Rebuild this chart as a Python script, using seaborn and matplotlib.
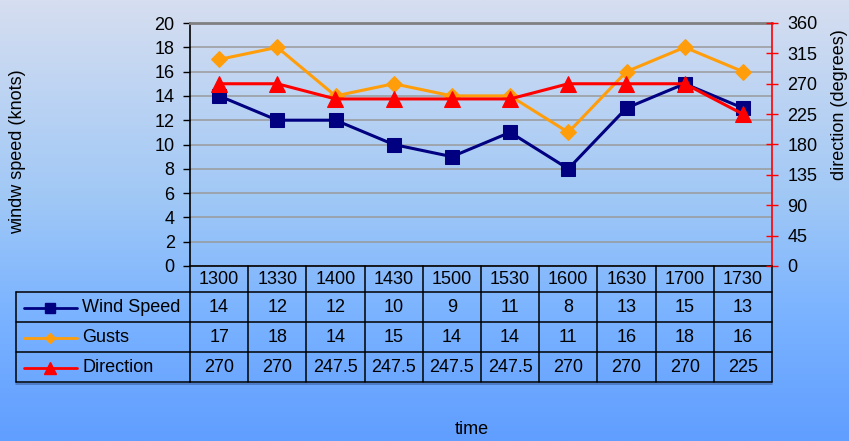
import numpy as np
import pandas as pd
import matplotlib
matplotlib.use("Agg")
import matplotlib.pyplot as plt
import matplotlib.transforms as mtransforms
from matplotlib.lines import Line2D
import seaborn as sns

# ---- data ----
times = ["1300", "1330", "1400", "1430", "1500", "1530", "1600", "1630", "1700", "1730"]
wind_speed = [14, 12, 12, 10, 9, 11, 8, 13, 15, 13]
gusts = [17, 18, 14, 15, 14, 14, 11, 16, 18, 16]
direction = [270, 270, 247.5, 247.5, 247.5, 247.5, 270, 270, 270, 225]
direction_labels = ["270", "270", "247.5", "247.5", "247.5", "247.5", "270", "270", "270", "225"]
series_names = ["Wind Speed", "Gusts", "Direction"]
left_ticks = list(range(0, 21, 2))
right_ticks = list(range(0, 361, 45))

sns.set_theme(style="white")
plt.rcParams["font.family"] = ["Liberation Sans", "DejaVu Sans"]
plt.rcParams["text.color"] = "black"
plt.rcParams["xtick.color"] = "black"
plt.rcParams["ytick.color"] = "black"
plt.rcParams["axes.labelcolor"] = "black"

FS = 13

W, H = 849, 441
fig = plt.figure(figsize=(W / 100, H / 100), dpi=100)

# ---- gradient background ----
bg = fig.add_axes([0, 0, 1, 1], zorder=-10)
stops = [(0.0, (214, 222, 240)), (0.45, (160, 200, 246)), (0.7, (124, 180, 255)), (1.0, (96, 158, 255))]
ys = np.linspace(0, 1, 256)
cols = np.zeros((256, 3))
for c in range(3):
    cols[:, c] = np.interp(ys, [s[0] for s in stops], [s[1][c] for s in stops]) / 255
grad = np.repeat(cols[:, None, :], 2, axis=1)
bg.imshow(grad, aspect="auto", extent=[0, 1, 0, 1], origin="upper")
bg.axis("off")

def fx(px):
    return px / W

def fy(py):
    return 1 - py / H

x0, x1, y_top, y_bot = 190, 772, 23, 266
ax = fig.add_axes([fx(x0), fy(y_bot), fx(x1) - fx(x0), (y_bot - y_top) / H])
ax.patch.set_alpha(0)

navy = "#000080"
orange = "#FF9E0A"
red = "#FF0000"

df = pd.DataFrame({"time": times, "wind": wind_speed, "gusts": gusts, "dir": direction})

sns.lineplot(data=df, x="time", y="gusts", ax=ax, color=orange, marker="D", markersize=8,
             markeredgecolor=orange, linewidth=2.2, zorder=3)
sns.lineplot(data=df, x="time", y="wind", ax=ax, color=navy, marker="s", markersize=10.5,
             markeredgecolor=navy, linewidth=2.2, zorder=4)
ax.set_xlim(-0.5, len(times) - 0.5)
ax.set_ylim(0, 20)
ax.set_yticks(left_ticks)
ax.set_yticklabels([str(t) for t in left_ticks], fontsize=FS, color="black")
ax.yaxis.grid(True, color="#9a9a9a", linewidth=1.1)
ax.set_axisbelow(True)
ax.tick_params(axis="y", direction="out", length=5, width=1, color="black", pad=6, left=True)
ax.tick_params(axis="x", bottom=False, labelbottom=False)
ax.set_xlabel("")
ax.set_ylabel("")
ax.spines["left"].set_color("black")
ax.spines["left"].set_linewidth(1.2)
ax.spines["bottom"].set_color("black")
ax.spines["bottom"].set_linewidth(1.2)
ax.spines["top"].set_color("#808080")
ax.spines["top"].set_linewidth(2)
ax.spines["right"].set_visible(False)

ax2 = ax.twinx()
sns.lineplot(data=df, x="time", y="dir", ax=ax2, color=red, marker="^", markersize=11,
             markeredgecolor=red, linewidth=2.2, zorder=5)
ax2.set_xlim(-0.5, len(times) - 0.5)
ax2.set_ylim(0, 360)
ax2.set_yticks(right_ticks)
ax2.set_yticklabels([str(t) for t in right_ticks], fontsize=FS, color="black")
ax2.tick_params(axis="y", direction="inout", length=8, width=1, color=red, pad=7, right=True)
ax2.tick_params(axis="x", bottom=False, labelbottom=False)
ax2.set_xlabel("")
ax2.set_ylabel("")
for s in ["left", "top", "bottom"]:
    ax2.spines[s].set_visible(False)
ax2.spines["right"].set_color(red)
ax2.spines["right"].set_linewidth(1.2)

# ---- axis titles ----
fig.text(fx(18), fy(152), "windw speed (knots)", rotation=90, ha="center", va="center", fontsize=FS)
fig.text(fx(840), fy(105), "direction (degrees)", rotation=90, ha="center", va="center", fontsize=FS)
fig.text(fx(472), fy(429), "time", ha="center", va="center", fontsize=FS)

# ---- data table ----
tr = mtransforms.blended_transform_factory(ax.transData, fig.transFigure)
n = len(times)
row_tops = [266, 292, 322, 352, 382]
legend_left = 16

def hline(xa, xb, py, trans, **kw):
    fig.add_artist(Line2D([xa, xb], [fy(py), fy(py)], transform=trans, color="black", linewidth=1.1, **kw))

for py in row_tops[1:]:
    hline(-0.5, n - 0.5, py, tr)
for py in row_tops[1:]:
    fig.add_artist(Line2D([fx(legend_left), fx(x0)], [fy(py), fy(py)], transform=fig.transFigure,
                          color="black", linewidth=1.1))
fig.add_artist(Line2D([fx(legend_left), fx(x1)], [fy(383.5), fy(383.5)], transform=fig.transFigure,
                      color="#3a5fa0", linewidth=1.2, alpha=0.7))
for i in range(n + 1):
    fig.add_artist(Line2D([i - 0.5, i - 0.5], [fy(266), fy(382)], transform=tr, color="black", linewidth=1.1))
fig.add_artist(Line2D([fx(legend_left), fx(legend_left)], [fy(292), fy(382)], transform=fig.transFigure,
                      color="black", linewidth=1.1))

for i, t in enumerate(times):
    fig.text(i, fy(279.5), t, transform=tr, ha="center", va="center", fontsize=FS)

rows = [[str(v) for v in wind_speed], [str(v) for v in gusts], direction_labels]
row_centers = [307.5, 337.5, 367.5]
styles = [(navy, "s", 7), (orange, "D", 5.5), (red, "^", 8)]
for r, (vals, cy) in enumerate(zip(rows, row_centers)):
    for i, v in enumerate(vals):
        fig.text(i, fy(cy), v, transform=tr, ha="center", va="center", fontsize=FS)
    col, mk, ms = styles[r]
    fig.add_artist(Line2D([fx(24), fx(77)], [fy(cy), fy(cy)], transform=fig.transFigure, color=col,
                          linewidth=2))
    fig.add_artist(Line2D([fx(50)], [fy(cy)], transform=fig.transFigure, color=col, marker=mk,
                          markersize=ms, markeredgecolor=col, linestyle="none"))
    fig.text(fx(82), fy(cy), series_names[r], ha="left", va="center", fontsize=FS)

fig.savefig("out.png", dpi=100)
